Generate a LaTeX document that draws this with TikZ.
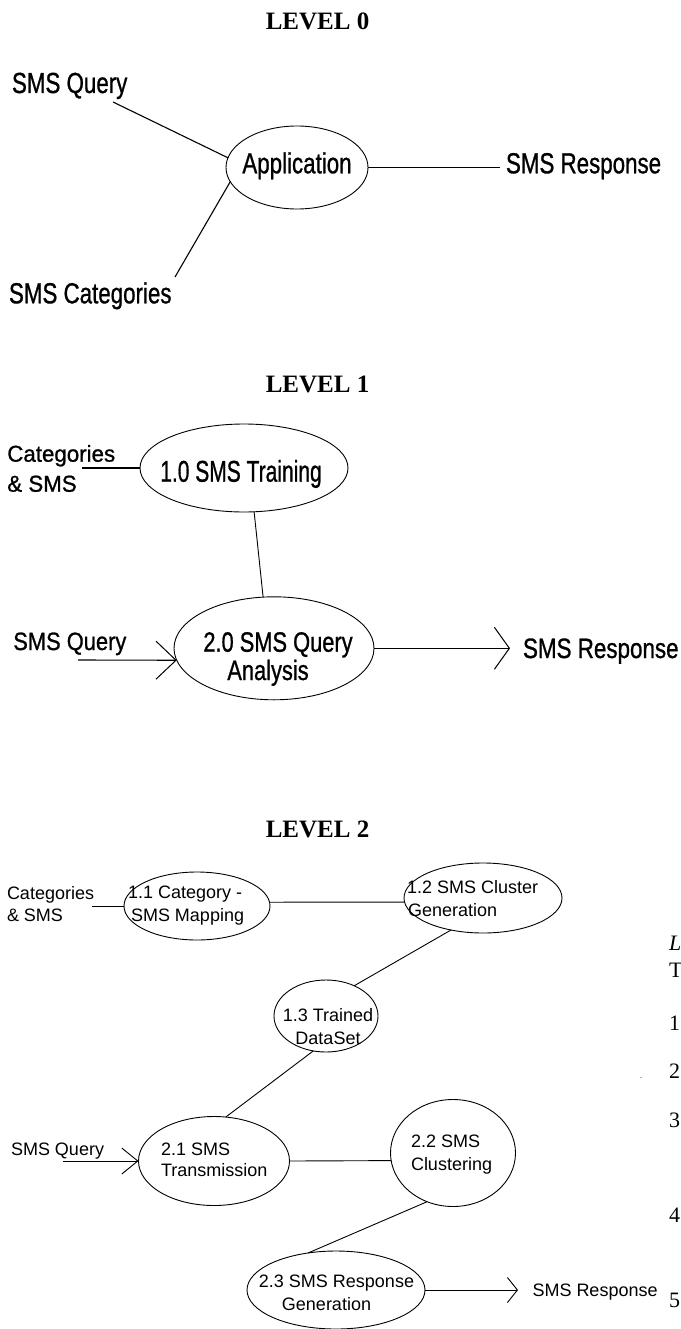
\documentclass[tikz,border=0pt]{standalone}
\usepackage{fontspec}
\setmainfont{Liberation Serif}
\newfontfamily\arialfont{Liberation Sans}
\newfontfamily\arialheavy[FakeBold=1]{Liberation Sans}
\usepackage{graphicx}
\usetikzlibrary{shapes.geometric,arrows.meta}
\newcommand{\dtext}[3]{\scalebox{#2}[1]{\arialfont\fontsize{#1pt}{#1pt}\selectfont #3}}
\newcommand{\htext}[3]{\scalebox{#2}[1]{\arialheavy\fontsize{#1pt}{#1pt}\selectfont #3}}
\tikzset{
  lbl/.style={anchor=base west, inner sep=0pt, outer sep=0pt},
  lblc/.style={anchor=base, inner sep=0pt, outer sep=0pt},
  proc/.style={draw, ellipse, inner sep=0pt, outer sep=0pt, line width=0.9pt},
  flow/.style={line width=1.1pt},
  thinflow/.style={line width=0.9pt},
  title/.style={anchor=base, inner sep=0pt, font=\bfseries\fontsize{25pt}{25pt}\selectfont},
  frag/.style={anchor=base west, inner sep=0pt, font=\fontsize{22pt}{22pt}\selectfont},
  barbA/.style={-{Straight Barb[length=20pt,width=38pt,line width=1pt]}},
  barbB/.style={-{Straight Barb[length=15pt,width=42pt,line width=1pt]}},
  barbC/.style={-{Straight Barb[length=16pt,width=26pt,line width=0.9pt]}},
  barbD/.style={-{Straight Barb[length=10pt,width=25pt,line width=0.9pt]}},
}
\begin{document}
\begin{tikzpicture}[x=1pt,y=-1pt]
\fill[white] (0,0) rectangle (680,1329);
\useasboundingbox (0,0) rectangle (680,1329);
\clip (0,0) rectangle (680,1329);

% ---------------- LEVEL 0
\node[title] (L0) at (317.5,30) {LEVEL 0};
\node[proc, minimum width=142pt, minimum height=83pt] (e0) at (297,167.5) {};
\node[lblc] (t0) at (297,173.3) {\htext{29}{.77}{Application}};
\node[lbl] (q0) at (12,93) {\htext{29}{.77}{SMS Query}};
\node[lbl] (c0) at (9,303.3) {\htext{29}{.77}{SMS Categories}};
\node[lbl] (r0) at (506,173.3) {\htext{29}{.77}{SMS Response}};
\coordinate (q0e) at (113,102);
\coordinate (c0e) at (175,277);
\coordinate (r0e) at (500,167.5);
\draw[flow] (q0e) -- (e0.172);
\draw[flow] (c0e) -- (e0.192);
\draw[flow] (e0.east) -- (r0e);

% ---------------- LEVEL 1
\node[title] (L1) at (317.5,392) {LEVEL 1};
\node[proc, minimum width=208pt, minimum height=88pt] (e10) at (244,468) {};
\node[lblc] (t10) at (241,481.7) {\htext{30}{.70}{1.0 SMS Training}};
\node[lbl] (c1a) at (7.3,461.7) {\htext{23}{.97}{Categories}};
\node[lbl] (c1b) at (7.3,491.7) {\htext{23}{.97}{\& SMS}};
\coordinate (c1e) at (81.7,468);
\draw[flow] (c1e) -- (e10.west);
\node[proc, minimum width=200pt, minimum height=103pt] (e20) at (274,648.3) {};
\node[lblc] (t20a) at (278,651.7) {\htext{28}{.78}{2.0 SMS Query}};
\node[lblc] (t20b) at (268,680) {\htext{28}{.78}{Analysis}};
\draw[thinflow] (e10.-77) -- (e20.102);
\node[lbl] (q1) at (13.3,650) {\htext{25}{.875}{SMS Query}};
\coordinate (q1e) at (78,660);
\draw[flow, barbA] (q1e) -- (e20.187);
\coordinate (r1e) at (510,648.3);
\draw[flow, barbB] (e20.east) -- (r1e);
\node[lbl] (r1) at (523,658) {\htext{28}{.8}{SMS Response}};

% ---------------- LEVEL 2
\node[title] (L2) at (317.5,837) {LEVEL 2};
\node[lbl] (c2a) at (7,899) {\dtext{18}{1}{Categories}};
\node[lbl] (c2b) at (7,921) {\dtext{18}{1}{\& SMS}};
\node[proc, minimum width=146pt, minimum height=68pt] (e11) at (197,906) {};
\node[lbl] (t11a) at (128,898) {\dtext{18}{1}{1.1 Category -}};
\node[lbl] (t11b) at (131,921) {\dtext{18}{1}{SMS Mapping}};
\node[proc, minimum width=158pt, minimum height=70pt] (e12) at (483,898) {};
\node[lbl] (t12a) at (407,893) {\dtext{18}{1}{1.2 SMS Cluster}};
\node[lbl] (t12b) at (408,916) {\dtext{18}{1}{Generation}};
\node[proc, minimum width=104pt, minimum height=72pt] (e13) at (326,1016) {};
\node[lblc] (t13a) at (328,1021) {\dtext{18}{1}{1.3 Trained}};
\node[lblc] (t13b) at (328,1044) {\dtext{18}{1}{DataSet}};
\node[proc, minimum width=151pt, minimum height=89pt] (e21) at (214,1161) {};
\node[lbl] (t21a) at (161,1155) {\dtext{18}{1}{2.1 SMS}};
\node[lbl] (t21b) at (161,1176.7) {\dtext{18}{1}{Transmission}};
\node[proc, minimum width=125pt, minimum height=107pt] (e22) at (453,1153) {};
\node[lbl] (t22a) at (411,1147.7) {\dtext{18}{1}{2.2 SMS}};
\node[lbl] (t22b) at (411,1170) {\dtext{18}{1}{Clustering}};
\node[proc, minimum width=178pt, minimum height=78pt] (e23) at (336,1290) {};
\node[lblc] (t23a) at (336.5,1287.7) {\dtext{18}{1}{2.3 SMS Response}};
\node[lblc] (t23b) at (326.5,1310) {\dtext{18}{1}{Generation}};
\node[lbl] (q2) at (11,1155.7) {\dtext{18}{1}{SMS Query}};
\node[lbl] (r2) at (532.5,1296.7) {\dtext{18}{1}{SMS Response}};
\coordinate (c2e) at (92,906);
\coordinate (q2e) at (63,1161);
\coordinate (r2e) at (518,1290);
\draw[thinflow] (c2e) -- (e11.west);
\draw[thinflow] (e11.3) -- (e12.183);
\draw[thinflow] (e12.225) -- (e13.47);
\draw[thinflow] (e13.250) -- (e21.75);
\draw[thinflow] (e21.east) -- (e22.187);
\draw[thinflow] (e22.242.5) -- (e23.127);
\draw[thinflow, barbC] (q2e) -- (e21.west);
\draw[thinflow, barbD] (e23.east) -- (r2e);

% ---------------- clipped fragments at the right edge
\node[frag] (f1) at (669,950) {\itshape L};
\node[frag] (f2) at (669,977) {T};
\node[frag] (f3) at (669,1030) {1};
\node[frag] (f4) at (669,1078) {2};
\node[frag] (f5) at (669,1127) {3};
\node[frag] (f6) at (669,1222) {4};
\node[frag] (f7) at (669,1307) {5};
\node[anchor=base, inner sep=0pt, font=\fontsize{12pt}{12pt}\selectfont, text=gray] (dot) at (641,1078) {.};
\end{tikzpicture}
\end{document}
